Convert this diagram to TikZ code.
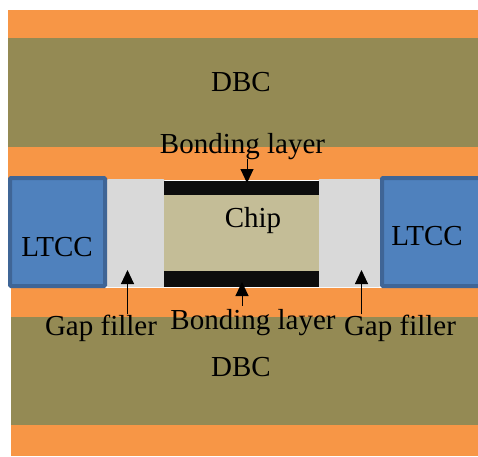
\documentclass[tikz,border=0pt]{standalone}
\usepackage{fontspec}
\setmainfont{Liberation Serif}
\usetikzlibrary{arrows.meta}
\definecolor{copper}{HTML}{F79646}
\definecolor{ceramic}{HTML}{948A54}
\definecolor{ltccblue}{HTML}{4F81BD}
\definecolor{ltccedge}{HTML}{3F6596}
\definecolor{filler}{HTML}{D9D9D9}
\definecolor{die}{HTML}{C4BD97}
\definecolor{bond}{HTML}{0D0D0D}
\tikzset{
    lbl/.style={anchor=base,inner sep=0pt,font=\fontsize{29}{31}\selectfont},
    pointer/.style={-{Triangle[length=14pt,width=13pt]},line width=1pt,black}
}

\begin{document}
\begin{tikzpicture}[x=1pt,y=-1pt]
\useasboundingbox (0,0) rectangle (478,456);

% Upper DBC
\fill[copper] (8,10) rectangle (478,38);
\fill[ceramic] (8,38) rectangle (478,147);
\fill[copper] (8,147) rectangle (478,180);

% Lower DBC
\fill[copper] (11,288) rectangle (478,317);
\fill[ceramic] (11,317) rectangle (478,425);
\fill[copper] (11,425) rectangle (478,456);

% Gap filler
\fill[filler,rounded corners=1pt] (107,179) rectangle (164.5,287);
\fill[filler,rounded corners=1pt] (318.5,179) rectangle (380,287);

% Chip and bonding layers
\fill[die] (164,195) rectangle (319,271);
\fill[bond] (164,180.5) rectangle (319,195);
\fill[bond] (164,270.5) rectangle (319,287);

% LTCC
\foreach \a/\b in {10/105, 382/480} {
    \draw[fill=ltccblue,draw=ltccedge,line width=4pt,rounded corners=1pt] (\a,178) rectangle (\b,286);
}

% Labels
\node[lbl] (dbctop) at (241,91) {DBC};
\node[lbl] (dbcbottom) at (241,376) {DBC};
\node[lbl] (bondtop) at (242.5,153) {Bonding layer};
\node[lbl] (bondbottom) at (253,329) {Bonding layer};
\node[lbl] (chip) at (253,227) {Chip};
\node[lbl] (ltccleft) at (57,256) {LTCC};
\node[lbl] (ltccright) at (427,245) {LTCC};
\node[lbl] (gapleft) at (101,335) {Gap filler};
\node[lbl] (gapright) at (400,335) {Gap filler};

% Arrows
\coordinate (bondtoptip) at (247,183);
\coordinate (bondbottomtip) at (242,282);
\coordinate (gaplefttip) at (127.5,270);
\coordinate (gaprighttip) at (361.5,270);
\draw[pointer] (bondtop.south -| bondtoptip) -- (bondtoptip);
\draw[pointer] ([yshift=3pt]bondbottom.north -| bondbottomtip) -- (bondbottomtip);
\draw[pointer] (gapleft.north -| gaplefttip) -- (gaplefttip);
\draw[pointer] (gapright.north -| gaprighttip) -- (gaprighttip);

\end{tikzpicture}
\end{document}
